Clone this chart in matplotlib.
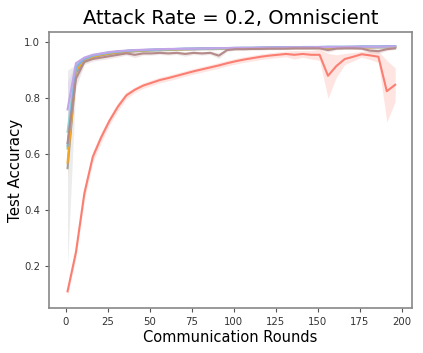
import numpy as np
import matplotlib.pyplot as plt

# communication rounds at which accuracy was logged
rounds = np.arange(1, 200, 5)

# mean test accuracy per method
acc_red = [0.11, 0.25, 0.46, 0.59, 0.66, 0.72, 0.77, 0.81, 0.83, 0.845,
           0.855, 0.865, 0.872, 0.88, 0.888, 0.896, 0.903, 0.91, 0.917, 0.925,
           0.932, 0.938, 0.943, 0.948, 0.952, 0.955, 0.958, 0.955, 0.958, 0.955,
           0.955, 0.88, 0.915, 0.94, 0.948, 0.957, 0.953, 0.948, 0.825, 0.848]
std_red = [0.015, 0.02, 0.025, 0.02, 0.018, 0.015, 0.015, 0.012, 0.01, 0.01,
           0.01, 0.01, 0.01, 0.01, 0.01, 0.01, 0.01, 0.01, 0.01, 0.01,
           0.01, 0.01, 0.01, 0.01, 0.01, 0.01, 0.01, 0.015, 0.012, 0.015,
           0.02, 0.08, 0.04, 0.02, 0.015, 0.01, 0.015, 0.02, 0.11, 0.06]

acc_brown = [0.64, 0.87, 0.93, 0.94, 0.945, 0.95, 0.955, 0.96, 0.955, 0.96,
             0.96, 0.962, 0.96, 0.962, 0.958, 0.962, 0.96, 0.962, 0.952, 0.972,
             0.975, 0.975, 0.976, 0.976, 0.977, 0.977, 0.977, 0.978, 0.978, 0.978,
             0.978, 0.972, 0.977, 0.978, 0.978, 0.977, 0.97, 0.968, 0.975, 0.978]
std_brown = [0.05, 0.03, 0.01, 0.008, 0.008, 0.008, 0.008, 0.006, 0.01, 0.006,
             0.006, 0.006, 0.006, 0.006, 0.008, 0.006, 0.006, 0.006, 0.01, 0.005,
             0.004, 0.004, 0.004, 0.004, 0.004, 0.004, 0.004, 0.004, 0.004, 0.004,
             0.004, 0.008, 0.004, 0.004, 0.004, 0.004, 0.008, 0.008, 0.005, 0.004]

acc_purple = [0.76, 0.925, 0.945, 0.955, 0.96, 0.965, 0.968, 0.97, 0.972, 0.973,
              0.974, 0.975, 0.976, 0.976, 0.977, 0.977, 0.978, 0.978, 0.979, 0.979,
              0.98, 0.98, 0.98, 0.981, 0.981, 0.981, 0.982, 0.982, 0.982, 0.982,
              0.983, 0.983, 0.983, 0.983, 0.984, 0.984, 0.984, 0.984, 0.985, 0.985]
std_purple = [0.1] + [0.005] * 39

acc_cyan = [0.68, 0.915, 0.94, 0.952, 0.958, 0.963, 0.967, 0.969, 0.971, 0.972,
            0.973, 0.974, 0.975, 0.976, 0.976, 0.977, 0.977, 0.978, 0.978, 0.979,
            0.979, 0.98, 0.98, 0.98, 0.981, 0.981, 0.981, 0.982, 0.982, 0.982,
            0.982, 0.983, 0.983, 0.983, 0.983, 0.984, 0.984, 0.984, 0.984, 0.985]
std_cyan = [0.08] + [0.004] * 39

acc_orange = [0.57, 0.9, 0.935, 0.948, 0.955, 0.96, 0.964, 0.967, 0.969, 0.971,
              0.972, 0.973, 0.974, 0.975, 0.975, 0.976, 0.977, 0.977, 0.978, 0.978,
              0.978, 0.979, 0.979, 0.979, 0.98, 0.98, 0.98, 0.98, 0.981, 0.981,
              0.981, 0.981, 0.982, 0.982, 0.982, 0.982, 0.982, 0.983, 0.983, 0.983]
std_orange = [0.05] + [0.004] * 39

acc_gray = [0.55, 0.89, 0.93, 0.945, 0.953, 0.958, 0.962, 0.965, 0.968, 0.97,
            0.971, 0.972, 0.973, 0.974, 0.975, 0.975, 0.976, 0.976, 0.977, 0.977,
            0.978, 0.978, 0.978, 0.979, 0.979, 0.979, 0.98, 0.98, 0.98, 0.98,
            0.981, 0.981, 0.981, 0.981, 0.982, 0.982, 0.982, 0.982, 0.982, 0.983]
std_gray = [0.35, 0.03] + [0.005] * 38

acc_green = [0.62, 0.905, 0.938, 0.95, 0.957, 0.962, 0.965, 0.968, 0.97, 0.971,
             0.972, 0.973, 0.974, 0.975, 0.976, 0.976, 0.977, 0.977, 0.978, 0.978,
             0.979, 0.979, 0.979, 0.98, 0.98, 0.98, 0.98, 0.981, 0.981, 0.981,
             0.981, 0.982, 0.982, 0.982, 0.982, 0.983, 0.983, 0.983, 0.983, 0.983]
std_green = [0.06] + [0.004] * 39

acc_blue = [0.63, 0.91, 0.94, 0.952, 0.958, 0.963, 0.966, 0.969, 0.971, 0.972,
            0.973, 0.974, 0.975, 0.976, 0.977, 0.977, 0.978, 0.978, 0.979, 0.979,
            0.98, 0.98, 0.98, 0.981, 0.981, 0.982, 0.982, 0.982, 0.983, 0.983,
            0.983, 0.984, 0.984, 0.984, 0.984, 0.985, 0.985, 0.985, 0.986, 0.986]
std_blue = [0.06] + [0.004] * 39

series = [
    (acc_gray, std_gray, '#a0a0a0'),
    (acc_green, std_green, '#8fcf8f'),
    (acc_orange, std_orange, '#f5a623'),
    (acc_cyan, std_cyan, '#8fd3d3'),
    (acc_blue, std_blue, '#7fb2e0'),
    (acc_purple, std_purple, '#c2a5e8'),
    (acc_brown, std_brown, '#b58a8a'),
    (acc_red, std_red, '#fa7f72'),
]

fig = plt.figure(figsize=(4.23, 3.53), dpi=100)
ax = fig.add_axes([0.116, 0.127, 0.858, 0.782])

for mean, std, color in series:
    mean = np.array(mean)
    std = np.array(std)
    ax.plot(rounds, mean, color=color, lw=1.5)
    ax.fill_between(rounds, mean - std, mean + std, color=color, alpha=0.2, lw=0)

ax.set_xlim(-10, 206)
ax.set_ylim(0.05, 1.036)
ax.set_xticks([0, 25, 50, 75, 100, 125, 150, 175, 200])
ax.set_yticks([0.2, 0.4, 0.6, 0.8, 1.0])
ax.tick_params(labelsize=7.3, labelcolor='#333333', length=3, color='#555555')
for s in ax.spines.values():
    s.set_color('#888888')
    s.set_linewidth(1.2)

ax.set_title('Attack Rate = 0.2, Omniscient', fontsize=14)
ax.set_xlabel('Communication Rounds', fontsize=10.5, labelpad=2)
ax.set_ylabel('Test Accuracy', fontsize=10.8)
ax.yaxis.set_label_coords(-0.072, 0.5)

fig.savefig('out.png', dpi=100)
